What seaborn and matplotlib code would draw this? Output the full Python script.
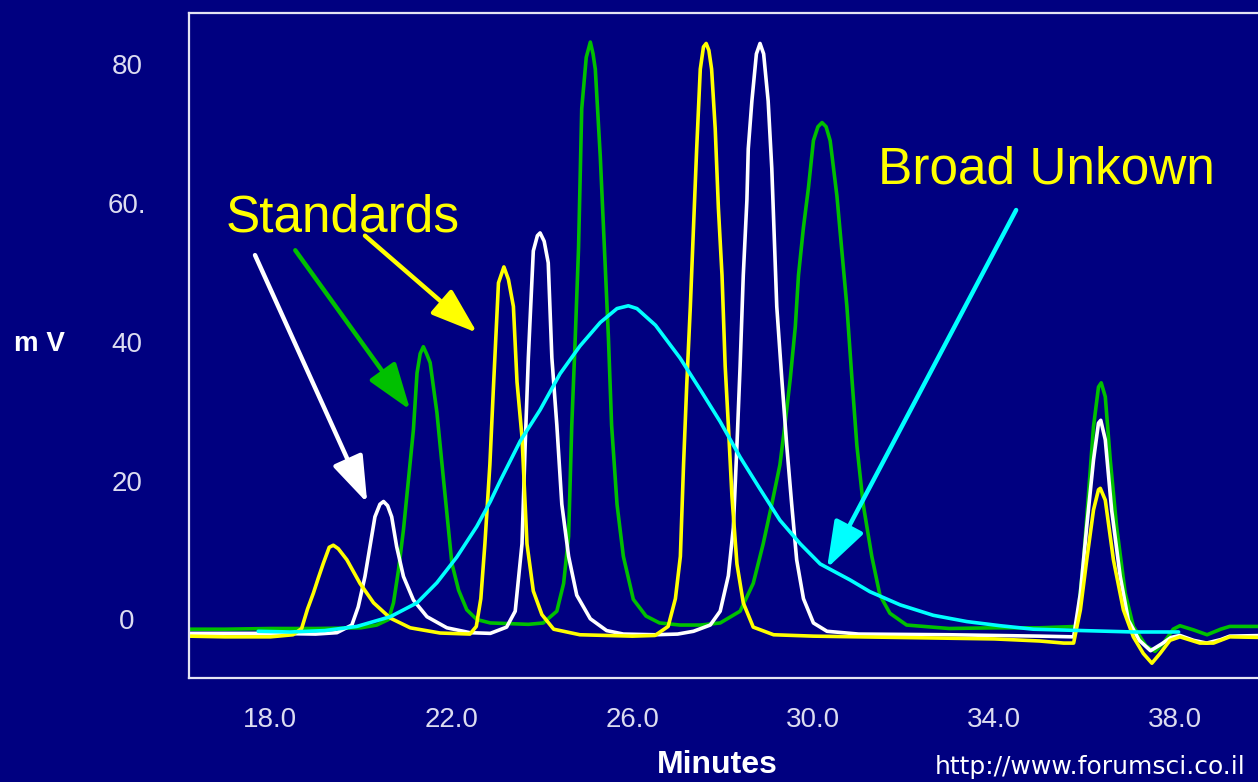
import matplotlib
matplotlib.use("Agg")
import matplotlib.pyplot as plt
import pandas as pd
import seaborn as sns

# Chromatogram traces: retention time (min) and detector signal (mV)
green_t = [16.2, 17.0, 18.0, 19.0, 20.0, 20.35, 20.61, 20.72, 20.83, 20.94, 21.05, 21.16, 21.24,
           21.31, 21.38, 21.45, 21.53, 21.68, 21.79, 21.90, 22.01, 22.16, 22.34, 22.56, 22.86,
           23.3, 23.7, 24.03, 24.33, 24.48, 24.59, 24.66, 24.73, 24.81, 24.88, 24.98, 25.07,
           25.13, 25.18, 25.29, 25.40, 25.47, 25.54, 25.66, 25.80, 26.02, 26.3, 26.6, 27.05,
           27.50, 27.94, 28.38, 28.67, 28.89, 29.08, 29.26, 29.37, 29.49, 29.60, 29.67, 29.78,
           29.89, 30.0, 30.1, 30.19, 30.28, 30.37, 30.52, 30.63, 30.74, 30.85, 30.96, 31.10,
           31.29, 31.47, 31.69, 32.06, 33.0, 34.0, 35.0, 35.82, 35.97, 36.08, 36.19, 36.30,
           36.36, 36.45, 36.56, 36.70, 36.89, 37.07, 37.35, 37.55, 37.75, 37.95, 38.1, 38.4,
           38.7, 39.0, 39.2, 40.0]
green_mv = [-1.4, -1.4, -1.3, -1.3, -1.2, -0.8, 0.0, 2.4, 7.1, 12.9, 20.1, 27.3, 35.5,
            38.3, 39.3, 38.3, 37.0, 29.8, 22.5, 15.3, 8.1, 4.2, 1.4, 0.0, -0.5,
            -0.6, -0.7, -0.5, 1.2, 5.2, 12.0, 28.0, 39.4, 53.6, 73.6, 81.0, 83.2,
            81.5, 79.3, 66.7, 50.8, 40.6, 28.0, 16.6, 9.1, 2.9, 0.5, -0.5, -0.8,
            -0.8, -0.5, 1.2, 5.2, 10.9, 16.6, 22.3, 28.0, 34.8, 42.2, 49.6, 56.5,
            62.2, 69.0, 71.0, 71.6, 71.0, 69.0, 61.0, 53.0, 45.1, 34.8, 25.1, 16.6,
            9.1, 3.5, 0.9, -0.8, -1.3, -1.2, -1.2, -1.0, 8.6, 18.2, 27.8, 33.5,
            34.1, 32.1, 23.0, 13.4, 3.8, -1.0, -3.8, -4.6, -3.3, -1.4, -0.9, -1.5,
            -2.2, -1.4, -1.0, -1.0]

white_t = [16.2, 18.0, 19.0, 19.47, 19.80, 19.94, 20.09, 20.20, 20.31, 20.42, 20.50, 20.59,
           20.68, 20.79, 20.94, 21.16, 21.46, 21.90, 22.41, 22.86, 23.22, 23.41, 23.56, 23.63,
           23.70, 23.74, 23.81, 23.90, 23.96, 24.05, 24.14, 24.22, 24.33, 24.44, 24.59, 24.77,
           25.07, 25.43, 25.80, 26.5, 27.0, 27.35, 27.72, 27.94, 28.12, 28.23, 28.31, 28.38,
           28.45, 28.53, 28.56, 28.64, 28.74, 28.82, 28.90, 29.0, 29.08, 29.19, 29.30, 29.41,
           29.52, 29.63, 29.78, 30.0, 30.30, 31.0, 33.0, 35.0, 35.75, 35.90, 36.04, 36.19,
           36.30, 36.35, 36.45, 36.59, 36.78, 36.96, 37.2, 37.45, 37.7, 37.9, 38.1, 38.4,
           38.69, 39.0, 39.2, 40.0]
white_mv = [-2.0, -2.0, -2.1, -1.9, -0.8, 1.8, 6.2, 10.5, 14.8, 16.6, 17.0, 16.4,
            14.8, 10.5, 6.2, 2.8, 0.4, -1.2, -1.9, -2.0, -1.1, 1.2, 10.9, 25.1,
            37.7, 43.4, 53.1, 55.3, 55.7, 54.5, 51.4, 37.7, 28.0, 16.6, 9.1, 3.5,
            0.1, -1.6, -2.1, -2.2, -2.1, -1.7, -0.8, 1.2, 6.3, 13.2, 25.1, 36.5,
            49.6, 60.4, 67.8, 74.7, 81.5, 83.0, 81.5, 74.7, 65.0, 45.1, 34.8, 25.1,
            16.6, 8.6, 3.0, -0.5, -1.7, -2.1, -2.2, -2.4, -2.5, 3.8, 13.4, 23.0,
            28.3, 28.7, 25.9, 15.8, 6.2, -0.1, -3.0, -4.5, -3.5, -2.6, -2.3, -3.0,
            -3.4, -2.9, -2.4, -2.3]

yellow_t = [16.2, 17.0, 18.0, 18.5, 18.69, 18.82, 18.95, 19.06, 19.17, 19.30, 19.39, 19.50,
            19.69, 19.98, 20.28, 20.65, 21.09, 21.75, 22.41, 22.55, 22.65, 22.74, 22.85, 22.93,
            23.04, 23.16, 23.26, 23.37, 23.45, 23.56, 23.67, 23.81, 24.0, 24.26, 24.84, 26.0,
            26.5, 26.79, 26.95, 27.06, 27.13, 27.20, 27.28, 27.35, 27.42, 27.50, 27.57, 27.63,
            27.69, 27.75, 27.83, 27.90, 27.98, 28.05, 28.12, 28.20, 28.31, 28.45, 28.67, 29.12,
            30.0, 32.0, 34.0, 35.0, 35.53, 35.75, 35.90, 36.04, 36.19, 36.30, 36.34, 36.45,
            36.63, 36.85, 37.07, 37.29, 37.48, 37.66, 37.88, 38.1, 38.54, 38.84, 39.2, 40.0]
yellow_mv = [-2.4, -2.5, -2.5, -2.2, -1.3, 1.5, 3.8, 6.0, 8.1, 10.4, 10.7, 10.2,
             8.6, 5.2, 2.4, 0.2, -1.2, -1.95, -2.1, -1.0, 3.0, 10.9, 22.3, 33.6,
             48.5, 50.8, 49.0, 45.1, 34.2, 26.3, 10.9, 4.1, 0.7, -1.4, -2.2, -2.4,
             -2.3, -1.0, 3.0, 9.1, 22.3, 33.7, 45.1, 56.5, 67.8, 79.3, 82.5, 83.0,
             82.0, 79.3, 70.7, 59.3, 49.6, 36.5, 28.0, 17.7, 8.0, 2.4, -1.1, -2.2,
             -2.4, -2.6, -2.8, -3.1, -3.4, -3.4, 1.4, 8.6, 15.8, 18.7, 18.9, 17.2,
             8.6, 1.4, -2.5, -4.9, -6.3, -4.9, -3.0, -2.5, -3.4, -3.4, -2.5, -2.6]

cyan_t = [17.73, 18.44, 19.2, 19.91, 20.65, 21.24, 21.68, 22.12, 22.56, 22.86, 23.08, 23.52,
          23.96, 24.40, 24.84, 25.29, 25.66, 25.91, 26.10, 26.51, 27.05, 27.50, 27.94, 28.38,
          28.82, 29.26, 29.71, 30.15, 30.81, 31.25, 31.92, 32.65, 33.39, 34.13, 34.86, 35.96,
          37.07, 38.07]
cyan_mv = [-1.7, -1.8, -1.6, -1.0, 0.4, 2.4, 5.3, 9.0, 13.4, 17.0, 20.0, 25.7,
           30.2, 35.4, 39.4, 42.8, 44.8, 45.2, 44.8, 42.4, 37.7, 33.1, 28.5, 23.4,
           18.8, 14.3, 10.9, 8.0, 5.7, 4.0, 2.1, 0.6, -0.3, -0.9, -1.4, -1.6,
           -1.8, -1.8]

x_ticks = [18.0, 22.0, 26.0, 30.0, 34.0, 38.0]
x_tick_labels = ["18.0", "22.0", "26.0", "30.0", "34.0", "38.0"]
y_ticks = [0, 20, 40, 60, 80]
y_tick_labels = ["0", "20", "40", "60.", "80"]

NAVY = "#000080"
FRAME = "#e4e4f4"
TICK_TEXT = "#dcdcf0"
GREEN = "#00c000"
WHITE = "#ffffff"
YELLOW = "#ffff00"
CYAN = "#00ffff"

sns.set_theme(style="dark")
plt.rcParams["font.family"] = ["Liberation Sans", "DejaVu Sans"]

fig = plt.figure(figsize=(12.58, 7.82), dpi=100, facecolor=NAVY)
ax = fig.add_axes([0.1502, 0.1330, 0.8561, 0.8504])
ax.set_facecolor(NAVY)

traces = [
    (green_t, green_mv, GREEN),
    (white_t, white_mv, WHITE),
    (yellow_t, yellow_mv, YELLOW),
    (cyan_t, cyan_mv, CYAN),
]
for t, mv, col in traces:
    df = pd.DataFrame({"Minutes": t, "mV": mv})
    sns.lineplot(data=df, x="Minutes", y="mV", color=col, linewidth=2.6,
                 estimator=None, sort=False, ax=ax)

ax.set_xlim(16.2, 40.0)
ax.set_ylim(-8.43, 87.39)
ax.set_xlabel("")
ax.set_ylabel("")
ax.grid(False)

ax.set_xticks(x_ticks)
ax.set_xticklabels(x_tick_labels)
ax.set_yticks(y_ticks)
ax.set_yticklabels(y_tick_labels)
ax.tick_params(axis="both", length=0, colors=TICK_TEXT, labelsize=20)
ax.tick_params(axis="x", pad=21)
ax.tick_params(axis="y", pad=44.6)
for lab in ax.get_yticklabels():
    lab.set_horizontalalignment("center")

for side in ["left", "top", "bottom"]:
    ax.spines[side].set_color(FRAME)
    ax.spines[side].set_linewidth(1.6)
ax.spines["right"].set_visible(False)

# Annotation labels and arrows
ax.text(17.02, 55.9, "Standards", color=YELLOW, fontsize=37, va="baseline", ha="left")
ax.text(31.43, 62.75, "Broad Unkown", color=YELLOW, fontsize=37, va="baseline", ha="left")


def arrow(start, tip, color):
    ax.annotate("", xy=tip, xytext=start,
                arrowprops=dict(arrowstyle="-|>,head_length=1.3,head_width=0.45",
                                color=color, lw=3.2, mutation_scale=22,
                                shrinkA=0, shrinkB=0))


arrow((17.66, 52.5), (20.14, 16.8), WHITE)
arrow((18.55, 53.2), (21.09, 30.2), GREEN)
arrow((20.09, 55.3), (22.57, 41.3), YELLOW)
arrow((34.48, 59.0), (30.30, 7.4), CYAN)

fig.text(0.031, 0.560, "m V", color=WHITE, fontsize=20, fontweight="bold",
         ha="center", va="center")
fig.text(0.570, 0.011, "Minutes", color=WHITE, fontsize=23, fontweight="bold",
         ha="center", va="baseline")
fig.text(0.743, 0.010, "http://www.forumsci.co.il", color=WHITE, fontsize=18,
         family="DejaVu Sans", ha="left", va="baseline")

fig.savefig("out.png", dpi=100, facecolor=NAVY)
